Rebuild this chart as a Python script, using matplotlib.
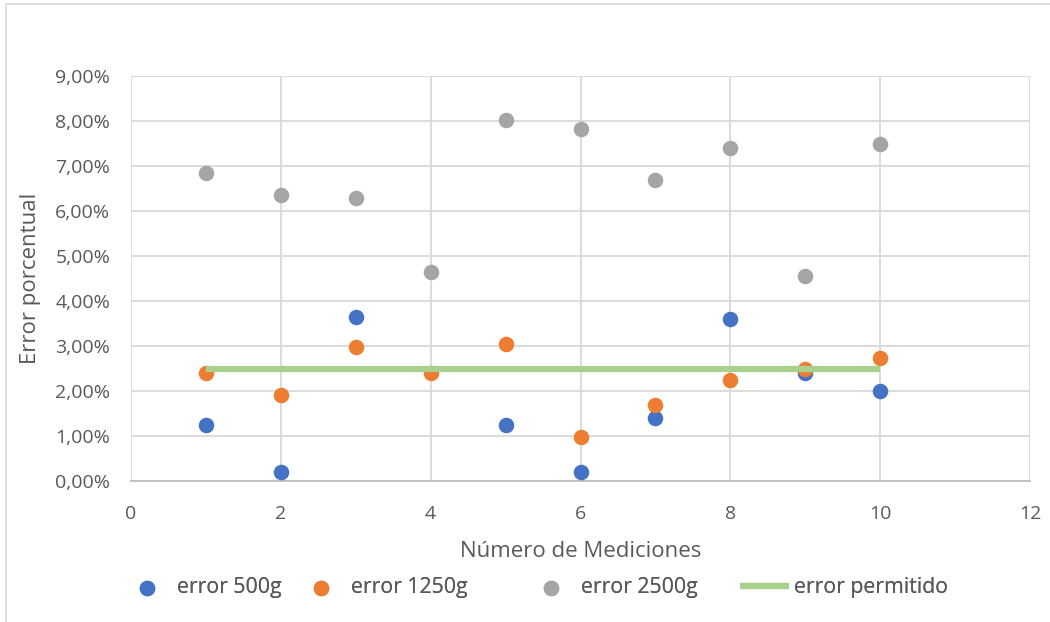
import matplotlib.pyplot as plt
from matplotlib.patches import Rectangle
from matplotlib.ticker import FuncFormatter

mediciones = [1, 2, 3, 4, 5, 6, 7, 8, 9, 10]
error_500g = [1.25, 0.20, 3.65, None, 1.25, 0.20, 1.41, 3.60, 2.40, 2.00]
error_1250g = [2.40, 1.92, 2.98, 2.40, 3.05, 0.97, 1.68, 2.24, 2.48, 2.73]
error_2500g = [6.85, 6.36, 6.29, 4.64, 8.02, 7.83, 6.68, 7.40, 4.56, 7.49]
permitido_x = [1, 10]
permitido_y = [2.5, 2.5]

plt.rcParams['font.family'] = ['Open Sans', 'DejaVu Sans']
text_color = '#595959'
W, H = 1050, 622

fig = plt.figure(figsize=(W / 100, H / 100), dpi=100)
ax = fig.add_axes([131 / W, 1 - 481 / H, (1030 - 131) / W, (481 - 76) / H])

# outer chart frame
fig.patches.append(Rectangle((6 / W, -0.01), 1.1, 1 - 4 / H + 0.01,
                             transform=fig.transFigure, fill=False,
                             edgecolor='#d9d9d9', linewidth=1.2))

def pts(xs, ys):
    pairs = [(x, y) for x, y in zip(xs, ys) if y is not None]
    return [p[0] for p in pairs], [p[1] for p in pairs]

msize = 125
x5, y5 = pts(mediciones, error_500g)
x12, y12 = pts(mediciones, error_1250g)
x25, y25 = pts(mediciones, error_2500g)
h1 = ax.scatter(x5, y5, s=msize, color='#4472c4', label='error 500g', zorder=3, linewidths=0)
h2 = ax.scatter(x12, y12, s=msize, color='#ed7d31', label='error 1250g', zorder=3, linewidths=0)
h3 = ax.scatter(x25, y25, s=msize, color='#a5a5a5', label='error 2500g', zorder=3, linewidths=0)
h4, = ax.plot(permitido_x, permitido_y, color='#a9d18e', linewidth=4.5, label='error permitido',
              zorder=4, solid_capstyle='butt')

ax.set_xlim(0, 12)
ax.set_ylim(0, 9)
ax.set_xticks(range(0, 13, 2))
ax.set_yticks(range(0, 10))
ax.yaxis.set_major_formatter(FuncFormatter(lambda v, p: f'{v:.2f}%'.replace('.', ',')))

ax.grid(True, color='#d9d9d9', linewidth=1.3, zorder=0)
ax.set_axisbelow(True)
for side in ['top', 'right', 'left']:
    ax.spines[side].set_visible(False)
ax.spines['bottom'].set_color('#bfbfbf')
ax.spines['bottom'].set_linewidth(1.3)
ax.tick_params(length=0, labelsize=14, colors=text_color)
ax.tick_params(axis='x', pad=17)
ax.tick_params(axis='y', pad=15)

ax.set_xlabel('Número de Mediciones', fontsize=16, color=text_color, labelpad=13)
ax.set_ylabel('Error porcentual', fontsize=16, color=text_color, labelpad=10)

# legend entries, each placed at its own position along the bottom
legend_y = 1 - 588 / H
for handle, x0 in [(h1, 123), (h2, 297), (h3, 527), (h4, 740)]:
    leg = fig.legend(handles=[handle], loc='center left', bbox_to_anchor=(x0 / W, legend_y),
                     frameon=False, fontsize=15.3, handlelength=2.3, handletextpad=0.25,
                     borderpad=0, borderaxespad=0, scatterpoints=1)
    for t in leg.get_texts():
        t.set_color(text_color)
    fig.add_artist(leg)

fig.savefig('out.png', dpi=100)
